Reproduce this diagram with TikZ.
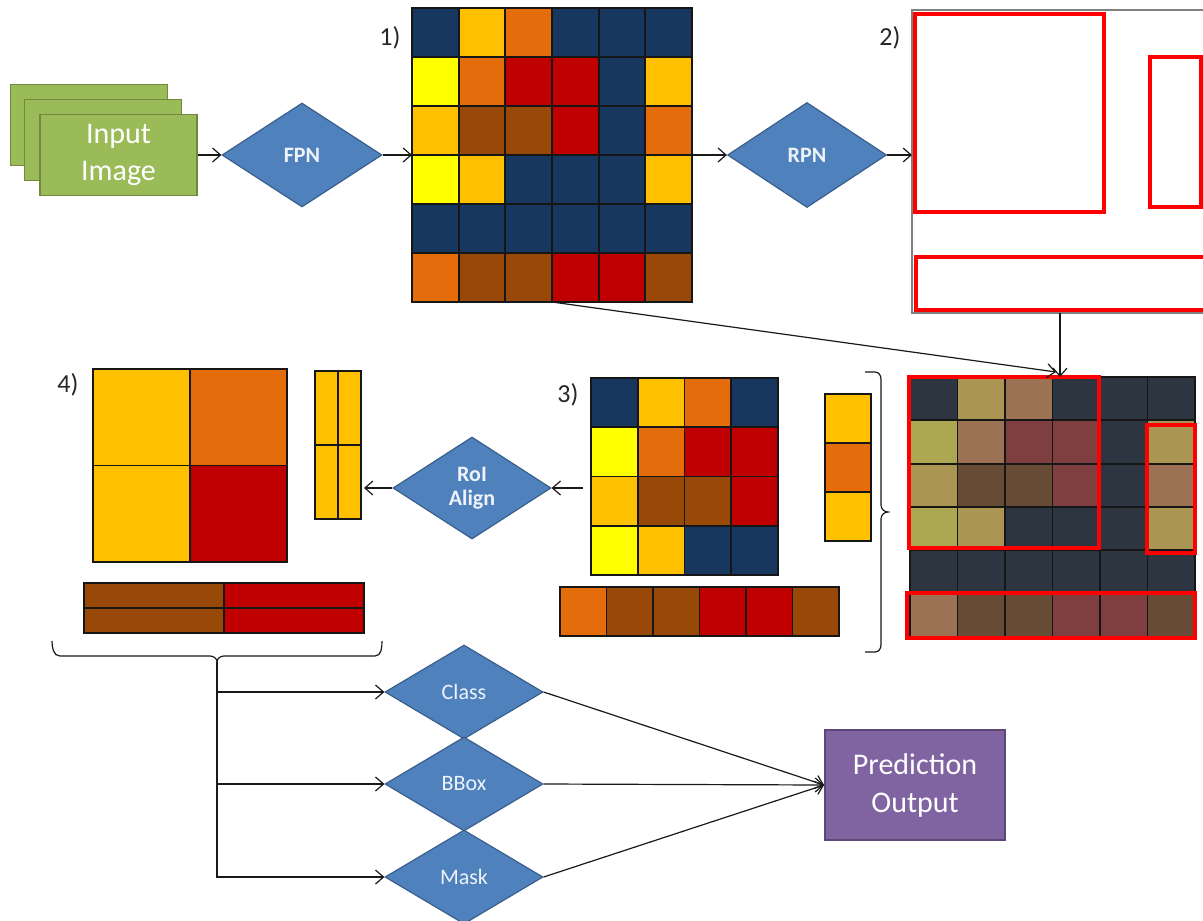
\documentclass[tikz,border=0pt]{standalone}
\usepackage{fontspec}
\setmainfont{Carlito}
\usetikzlibrary{shapes.geometric,arrows.meta}

% cell colours
\definecolor{navy}{HTML}{17375E}
\definecolor{amber}{HTML}{FFC000}
\definecolor{orange}{HTML}{E46C0A}
\definecolor{red}{HTML}{C00000}
\definecolor{brown}{HTML}{984807}
\definecolor{yellow}{HTML}{FFFF00}
% dimmed cell colours
\definecolor{dnavy}{HTML}{2D3541}
\definecolor{damber}{HTML}{AB9552}
\definecolor{dorange}{HTML}{9C7254}
\definecolor{dred}{HTML}{7F3F40}
\definecolor{dbrown}{HTML}{664B35}
\definecolor{dyellow}{HTML}{ACA752}
% shapes
\definecolor{diafill}{HTML}{4F81BD}
\definecolor{diaedge}{HTML}{3A5F8C}
\definecolor{diatext}{HTML}{EEF3FA}
\definecolor{greenfill}{HTML}{9BBB59}
\definecolor{greenedge}{HTML}{71893F}
\definecolor{purplefill}{HTML}{8064A2}
\definecolor{purpleedge}{HTML}{5C4776}
\definecolor{cellline}{HTML}{161616}
\definecolor{boxred}{HTML}{FF0000}

% one row of grid cells: x, y, cell width, cell height, colour list
\newcommand\gridrow[5]{%
  \foreach \cellc [count=\cellk from 0] in {#5}{%
    \filldraw[fill=\cellc, draw=cellline, line width=0.9pt]
      ({#1+\cellk*#3},{#2}) rectangle ++(#3,#4);}}

\tikzset{
  area/.style={rectangle, inner sep=0, outer sep=0, anchor=north west},
  dia/.style={diamond, fill=diafill, draw=diaedge, line width=0.6pt,
    inner sep=0, text=diatext, align=center,
    font=\fontsize{11}{12}\selectfont\bfseries},
  head/.style={dia, minimum width=79pt, minimum height=47pt,
    font=\fontsize{11}{12}\selectfont},
  inbox/.style={rectangle, fill=greenfill, draw=greenedge, line width=0.9pt,
    minimum width=78.5pt, minimum height=40.5pt, inner sep=0},
  lbl/.style={font=\fontsize{13}{15}\selectfont, text=black!85, inner sep=0},
  redbox/.style={draw=boxred, line width=1.6pt},
  arr/.style={-{Straight Barb[length=4pt,width=7pt]}, line width=0.6pt, black!90},
  line/.style={line width=0.6pt, black!90},
}

\begin{document}
\begin{tikzpicture}[x=0.5pt,y=-0.5pt]
\useasboundingbox (0,0) rectangle (1203,920);

% ---------- input stack ----------
\node[inbox] (in3) at (89,125) {};
\node[inbox] (in2) at (103,140) {};
\node[inbox, text=white, align=center, font=\fontsize{15}{18.5}\selectfont]
  (in1) at (118.5,155) {Input\\Image};

\node[dia, minimum width=80pt, minimum height=52pt] (fpn) at (302,155) {FPN};

% ---------- feature map 1) ----------
\node[area, minimum width=140pt, minimum height=147pt] (g1) at (412,8) {};
\gridrow{412}{8}{46.667}{49}{navy,amber,orange,navy,navy,navy}
\gridrow{412}{57}{46.667}{49}{yellow,orange,red,red,navy,amber}
\gridrow{412}{106}{46.667}{49}{amber,brown,brown,red,navy,orange}
\gridrow{412}{155}{46.667}{49}{yellow,amber,navy,navy,navy,amber}
\gridrow{412}{204}{46.667}{49}{navy,navy,navy,navy,navy,navy}
\gridrow{412}{253}{46.667}{49}{orange,brown,brown,red,red,brown}
\node[lbl] (l1) at (390,38) {1)};

\node[dia, minimum width=79.5pt, minimum height=52.5pt] (rpn) at (807,155) {RPN};

% ---------- proposals 2) ----------
\node[area, minimum width=148pt, minimum height=151.5pt, draw=gray, line width=1pt]
  (box2) at (912,10) {};
\draw[redbox] (915,14) rectangle (1104,212);
\draw[redbox] (1150,57) rectangle (1201,207);
\draw[redbox] (916,257) rectangle (1210,310);
\node[lbl] (l2) at (890,38) {2)};

% ---------- feature map with proposals ----------
\node[area, minimum width=142.5pt, minimum height=130pt] (g2) at (910,377) {};
\gridrow{910}{377}{47.5}{43.33}{dnavy,damber,dorange,dnavy,dnavy,dnavy}
\gridrow{910}{420.33}{47.5}{43.33}{dyellow,dorange,dred,dred,dnavy,damber}
\gridrow{910}{463.67}{47.5}{43.33}{damber,dbrown,dbrown,dred,dnavy,dorange}
\gridrow{910}{507}{47.5}{43.33}{dyellow,damber,dnavy,dnavy,dnavy,damber}
\gridrow{910}{550.33}{47.5}{43.33}{dnavy,dnavy,dnavy,dnavy,dnavy,dnavy}
\gridrow{910}{593.67}{47.5}{43.33}{dorange,dbrown,dbrown,dred,dred,dbrown}
\draw[redbox] (909,377) rectangle (1099,548);
\draw[redbox] (1147,425) rectangle (1195,553);
\draw[redbox] (907,593) rectangle (1195,638);

% ---------- cropped regions 3) ----------
\node[area, minimum width=93.5pt, minimum height=98.5pt] (g3) at (591,378) {};
\gridrow{591}{378}{46.75}{49.25}{navy,amber,orange,navy}
\gridrow{591}{427.25}{46.75}{49.25}{yellow,orange,red,red}
\gridrow{591}{476.5}{46.75}{49.25}{amber,brown,brown,red}
\gridrow{591}{525.75}{46.75}{49.25}{yellow,amber,navy,navy}
\node[lbl] (l3) at (568,395) {3)};

\node[area, minimum width=23pt, minimum height=73.5pt] (t3) at (825,394) {};
\gridrow{825}{394}{46}{49}{amber}
\gridrow{825}{443}{46}{49}{orange}
\gridrow{825}{492}{46}{49}{amber}

\node[area, minimum width=139.5pt, minimum height=24.5pt] (w3) at (560,587) {};
\gridrow{560}{587}{46.5}{49}{orange,brown,brown,red,red,brown}

% right brace grouping the crops
\draw[line] (865,372) -- (875,372) to[out=0,in=90] (881,379) -- (881,505)
  to[out=-90,in=180] (888,512) to[out=180,in=90] (881,519) -- (881,645)
  to[out=-90,in=0] (875,652) -- (865,652);

\node[dia, minimum width=79pt, minimum height=51pt] (roi) at (472,488) {RoI\\Align};

% ---------- pooled regions 4) ----------
\node[area, minimum width=97pt, minimum height=96.5pt] (g4) at (93,369) {};
\gridrow{93}{369}{97}{96.5}{amber,orange}
\gridrow{93}{465.5}{97}{96.5}{amber,red}
\node[lbl] (l4) at (68,385) {4)};

\node[area, minimum width=23pt, minimum height=74pt] (t4) at (315,371) {};
\gridrow{315}{371}{23}{74}{amber,amber}
\gridrow{315}{445}{23}{74}{amber,amber}

\node[area, minimum width=140pt, minimum height=25pt] (w4) at (84,583) {};
\gridrow{84}{583}{140}{25}{brown,red}
\gridrow{84}{608}{140}{25}{brown,red}

% lower brace grouping the pooled regions
\draw[line] (52,641) to[out=-90,in=180] (60,656) -- (210,656)
  to[out=0,in=90] (217,662) to[out=90,in=180] (224,656) -- (375,656)
  to[out=0,in=-90] (382,641);
\coordinate (btip) at (217,662);

% ---------- heads and output ----------
\node[head] (cls) at (464,692) {Class};
\node[head] (bbox) at (464,784) {BBox};
\node[head] (mask) at (464,877) {Mask};

\node[rectangle, fill=purplefill, draw=purpleedge, line width=0.9pt,
  minimum width=90pt, minimum height=55pt, text=white, align=center,
  font=\fontsize{15}{19}\selectfont] (pred) at (915,785) {Prediction\\Output};

% ---------- connectors ----------
\draw[arr] (in1.east) -- (fpn.west);
\draw[arr] (fpn.east) -- (fpn.east -| g1.west);
\draw[arr] (rpn.west -| g1.east) -- (rpn.west);
\draw[arr] (rpn.east) -- (rpn.east -| box2.west);
\draw[arr] (box2.south) -- (box2.south |- g2.north);
\coordinate (g2in) at (1056,372);
\draw[arr] (g1.south) -- (g2in);
\draw[arr] ([xshift=-4pt]roi.east -| g3.west) -- (roi.east);
\draw[arr] (roi.west) -- ([xshift=1.5pt]roi.west -| t4.east);
\draw[line] (btip) -- (btip |- mask.west);
\draw[arr] (btip) |- (cls.west);
\draw[arr] (btip) |- (bbox.west);
\draw[arr] (btip) |- (mask.west);
\draw[arr] (cls.east) -- (pred.west);
\draw[arr] (bbox.east) -- (pred.west);
\draw[arr] (mask.east) -- (pred.west);
\end{tikzpicture}
\end{document}
